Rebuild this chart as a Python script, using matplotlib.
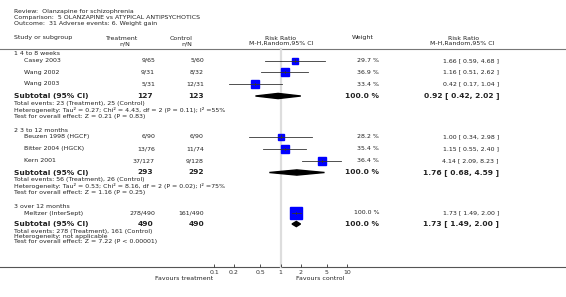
import matplotlib
matplotlib.use("Agg")
import matplotlib.pyplot as plt
from matplotlib.patches import Polygon
import numpy as np

# ---- data ----
review = "Review:  Olanzapine for schizophrenia"
comparison = "Comparison:  5 OLANZAPINE vs ATYPICAL ANTIPSYCHOTICS"
outcome = "Outcome:  31 Adverse events: 6. Weight gain"

groups = ["1 4 to 8 weeks", "2 3 to 12 months", "3 over 12 months"]

studies = [
    ["Casey 2003", "Wang 2002", "Wang 2003"],
    ["Beuzen 1998 (HGCF)", "Bitter 2004 (HGCK)", "Kern 2001"],
    ["Meltzer (InterSept)"],
]
treat_nN = [["9/65", "9/31", "5/31"], ["6/90", "13/76", "37/127"], ["278/490"]]
ctrl_nN = [["5/60", "8/32", "12/31"], ["6/90", "11/74", "9/128"], ["161/490"]]
rr = [[1.66, 1.16, 0.42], [1.00, 1.15, 4.14], [1.73]]
rr_lo = [[0.59, 0.51, 0.17], [0.34, 0.55, 2.09], [1.49]]
rr_hi = [[4.68, 2.62, 1.04], [2.98, 2.40, 8.23], [2.00]]
weights = [[29.7, 36.9, 33.4], [28.2, 35.4, 36.4], [100.0]]

sub_treat_N = [127, 293, 490]
sub_ctrl_N = [123, 292, 490]
sub_rr = [0.92, 1.76, 1.73]
sub_lo = [0.42, 0.68, 1.49]
sub_hi = [2.02, 4.59, 2.00]
total_events = [
    "Total events: 23 (Treatment), 25 (Control)",
    "Total events: 56 (Treatment), 26 (Control)",
    "Total events: 278 (Treatment), 161 (Control)",
]
heterogeneity = [
    "Heterogeneity: Tau² = 0.27; Chi² = 4.43, df = 2 (P = 0.11); I² =55%",
    "Heterogeneity: Tau² = 0.53; Chi² = 8.16, df = 2 (P = 0.02); I² =75%",
    "Heterogeneity: not applicable",
]
overall = [
    "Test for overall effect: Z = 0.21 (P = 0.83)",
    "Test for overall effect: Z = 1.16 (P = 0.25)",
    "Test for overall effect: Z = 7.22 (P < 0.00001)",
]
xticks = [0.1, 0.2, 0.5, 1, 2, 5, 10]
xtick_labels = ["0.1", "0.2", "0.5", "1", "2", "5", "10"]

# ---- layout (pixel rows) ----
title_y = [53.5, 130.5, 206]
study_y = [[60.5, 72.2, 84], [136.5, 148.7, 160.7], [213]]
sub_y = [96, 172.5, 224]
info_y = [[103, 110, 116.5], [180, 186, 192.5], [231, 236.5, 242]]
W, H = 566, 297
fs = 4.5
fs_b = 5.4
col = "#222222"

fig = plt.figure(figsize=(W / 100, H / 100), dpi=100)
tx = fig.add_axes([0, 0, 1, 1])
tx.set_xlim(0, W)
tx.set_ylim(H, 0)
tx.axis("off")

# forest axes: 0.1 at x=214, 10 at x=347
x0, x1 = 214, 347
ax = fig.add_axes([x0 / W, 0, (x1 - x0) / W, 1])
ax.set_xscale("log")
ax.set_xlim(0.1, 10)
ax.set_ylim(H, 0)
ax.patch.set_alpha(0)
for s in ["top", "left", "right", "bottom"]:
    ax.spines[s].set_visible(False)
ax.spines["bottom"].set_position(("data", 267))
ax.set_yticks([])
ax.set_xticks(xticks)
ax.set_xticklabels(xtick_labels)
ax.xaxis.set_minor_locator(matplotlib.ticker.NullLocator())
ax.tick_params(axis="x", direction="in", length=2, width=0.6, pad=1.8,
               labelsize=fs, colors="#333333")
ax.plot([1, 1], [49, 267], color="#dddddd", lw=1.6, zorder=1)

# header
tx.text(14, 12, review, fontsize=fs, color=col, va="center")
tx.text(14, 18, comparison, fontsize=fs, color=col, va="center")
tx.text(14, 24, outcome, fontsize=fs, color=col, va="center")
tx.text(14, 38, "Study or subgroup", fontsize=fs, color=col, va="center")
tx.text(122, 38, "Treatment", fontsize=fs, color=col, va="center", ha="center")
tx.text(130, 43.5, "n/N", fontsize=fs, color=col, va="center", ha="right")
tx.text(193, 38, "Control", fontsize=fs, color=col, va="center", ha="right")
tx.text(192, 43.5, "n/N", fontsize=fs, color=col, va="center", ha="right")
tx.text(281, 38, "Risk Ratio", fontsize=fs, color=col, va="center", ha="center")
tx.text(281, 43.5, "M-H,Random,95% CI", fontsize=fs, color=col, va="center", ha="center")
tx.text(363, 38, "Weight", fontsize=fs, color=col, va="center", ha="center")
tx.text(464, 38, "Risk Ratio", fontsize=fs, color=col, va="center", ha="center")
tx.text(462, 43.5, "M-H,Random,95% CI", fontsize=fs, color=col, va="center", ha="center")
tx.plot([0, W], [48.8, 48.8], color="#777777", lw=0.8)
tx.plot([0, W], [267, 267], color="#555555", lw=0.8)

for g in range(len(groups)):
    tx.text(14, title_y[g], groups[g], fontsize=fs, color=col, va="center")
    for i, name in enumerate(studies[g]):
        y = study_y[g][i]
        tx.text(24, y, name, fontsize=fs, color=col, va="center")
        tx.text(155, y, treat_nN[g][i], fontsize=fs, color=col, va="center", ha="right")
        tx.text(204, y, ctrl_nN[g][i], fontsize=fs, color=col, va="center", ha="right")
        tx.text(379, y, f"{weights[g][i]:.1f} %", fontsize=fs, color=col,
                va="center", ha="right")
        tx.text(499, y, f"{rr[g][i]:.2f} [ {rr_lo[g][i]:.2f}, {rr_hi[g][i]:.2f} ]",
                fontsize=fs, color=col, va="center", ha="right")
        side = 1.25 * np.sqrt(weights[g][i]) * 0.72
        ax.plot(rr[g][i], y, marker="s", ms=side, color="#0000ff", mec="#0000ff",
                ls="none", zorder=3)
        ax.plot([rr_lo[g][i], rr_hi[g][i]], [y, y], color="#333333", lw=0.6, zorder=4)
        ax.plot([rr[g][i], rr[g][i]], [y - 1.2, y + 1.2], color="#333333", lw=0.6, zorder=4)

    y = sub_y[g]
    tx.text(14, y, "Subtotal (95% CI)", fontsize=fs_b, fontweight="bold", color=col, va="center")
    tx.text(153, y, str(sub_treat_N[g]), fontsize=fs_b, fontweight="bold", color=col,
            va="center", ha="right")
    tx.text(204, y, str(sub_ctrl_N[g]), fontsize=fs_b, fontweight="bold", color=col,
            va="center", ha="right")
    tx.text(379, y, "100.0 %", fontsize=fs_b, fontweight="bold", color=col,
            va="center", ha="right")
    tx.text(499, y, f"{sub_rr[g]:.2f} [ {sub_lo[g]:.2f}, {sub_hi[g]:.2f} ]",
            fontsize=fs_b, fontweight="bold", color=col, va="center", ha="right")
    dia = Polygon([[sub_lo[g], y], [sub_rr[g], y - 2.6], [sub_hi[g], y], [sub_rr[g], y + 2.6]],
                  closed=True, color="black", zorder=3)
    ax.add_patch(dia)

    for k, t in enumerate([total_events[g], heterogeneity[g], overall[g]]):
        tx.text(14, info_y[g][k], t, fontsize=fs, color=col, va="center")

tx.text(213, 278.5, "Favours treatment", fontsize=fs, color=col, va="center", ha="right")
tx.text(296, 278.5, "Favours control", fontsize=fs, color=col, va="center", ha="left")

fig.savefig("out.png", dpi=100)
